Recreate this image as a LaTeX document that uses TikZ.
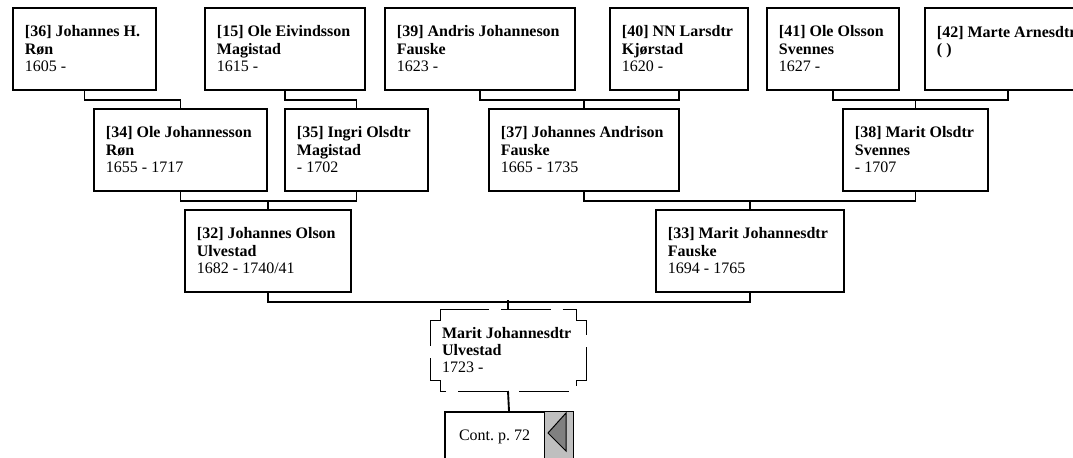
\documentclass[tikz,border=0pt]{standalone}
\usepackage{fontspec}
\setmainfont{Liberation Serif}
\frenchspacing

\begin{document}
\begin{tikzpicture}[x=0.75pt, y=-0.75pt, line width=1.4pt]

    \tikzstyle{person}=[draw, anchor=north west, align=flush left, inner xsep=9pt,
                        minimum height=61.5pt, font=\fontsize{12}{13.1}\selectfont]
    \tikzstyle{self}=[person, draw=none, outer sep=0pt, anchor=center]
    \tikzstyle{dashbox}=[line width=0.75pt, dash pattern=on 37pt off 9pt]
    \tikzstyle{contbox}=[draw, line width=1.5pt, anchor=north west, align=flush left, inner xsep=10.5pt,
                         minimum height=36.75pt, font=\fontsize{12}{13.1}\selectfont]
    \tikzstyle{flagbox}=[draw, line width=0.75pt, fill=black!25, anchor=north east,
                         minimum width=21.75pt, minimum height=36.75pt, inner sep=0pt]

    \useasboundingbox (0,0) rectangle (1073,457);
    \clip (0,0) rectangle (1073,457);

    % great-grandparents
    \node[person, text width=89.25pt] (p36) at (12,7) {\textbf{[36] Johannes H.}\\\textbf{Røn}\\1605 -};
    \node[person, text width=102pt] (p15) at (204,7) {\textbf{[15] Ole Eivindsson}\\\textbf{Magistad}\\1615 -};
    \node[person, text width=124.5pt] (p39) at (384,7) {\textbf{[39] Andris Johanneson}\\\textbf{Fauske}\\1623 -};
    \node[person, text width=85.5pt] (p40) at (609,7) {\textbf{[40] NN Larsdtr}\\\textbf{Kjørstad}\\1620 -};
    \node[person, text width=81pt] (p41) at (766,7) {\textbf{[41] Ole Olsson}\\\textbf{Svennes}\\1627 -};
    \node[person, text width=106.5pt] (p42) at (924,7) {\textbf{[42] Marte Arnesdtr}\\\textbf{( )}\\~};

    % grandparents
    \node[person, text width=111.75pt] (p34) at (93,108) {\textbf{[34] Ole Johannesson}\\\textbf{Røn}\\1655 - 1717};
    \node[person, text width=89.25pt] (p35) at (284,108) {\textbf{[35] Ingri Olsdtr}\\\textbf{Magistad}\\- 1702};
    \node[person, text width=124.5pt] (p37) at (488,108) {\textbf{[37] Johannes Andrison}\\\textbf{Fauske}\\1665 - 1735};
    \node[person, text width=90.75pt] (p38) at (842,108) {\textbf{[38] Marit Olsdtr}\\\textbf{Svennes}\\- 1707};

    % parents
    \node[person, text width=106.5pt] (p32) at (184,209) {\textbf{[32] Johannes Olson}\\\textbf{Ulvestad}\\1682 - 1740/41};
    \node[person, text width=123pt] (p33) at (655,209) {\textbf{[33] Marit Johannesdtr}\\\textbf{Fauske}\\1694 - 1765};

    % the person herself
    \node[self, text width=99pt] (me) at (508,350) {\textbf{Marit Johannesdtr}\\\textbf{Ulvestad}\\1723 -};
    \draw[dashbox] ([shift={(10,0)}]me.north west) -- ([shift={(-10,0)}]me.north east)
        -- ([shift={(-10,11)}]me.north east) -- ([shift={(0,11)}]me.north east)
        -- ([shift={(0,-11)}]me.south east) -- ([shift={(-10,-11)}]me.south east)
        -- ([shift={(-10,0)}]me.south east) -- ([shift={(10,0)}]me.south west)
        -- ([shift={(10,-11)}]me.south west) -- ([shift={(0,-11)}]me.south west)
        -- ([shift={(0,11)}]me.north west) -- ([shift={(10,11)}]me.north west) -- cycle;

    % continuation
    \node[contbox, text width=75pt] (cont) at (444,411) {Cont. p. 72};
    \node[flagbox] (flag) at (cont.north east) {};
    \draw[fill=black!50, line width=0.75pt] ([shift={(4,22)}]flag.north west)
        -- ([shift={(22,2)}]flag.north west) -- ([shift={(22,40)}]flag.north west) -- cycle;

    % lines of descent
    \draw (p36.south) -- ++(0,9.5) -| (p34.north);
    \draw (p15.south) -- ++(0,9.5) -| (p35.north);
    \draw (p39.south) -- ++(0,9.5) -| (p40.south);
    \draw (p37.north) -- ++(0,-9.5);
    \draw (p41.south) -- ++(0,9.5) -| (p42.south);
    \draw (p38.north) -- ++(0,-9.5);
    \draw (p34.south) -- ++(0,9.5) -| (p35.south);
    \draw (p32.north) -- ++(0,-9.5);
    \draw (p37.south) -- ++(0,9.5) -| (p38.south);
    \draw (p33.north) -- ++(0,-9.5);
    \draw (p32.south) -- ++(0,9) -| (p33.south);
    \draw (me.north) -- ++(0,-9);
    \draw (me.south) -- (cont.north);
\end{tikzpicture}
\end{document}
